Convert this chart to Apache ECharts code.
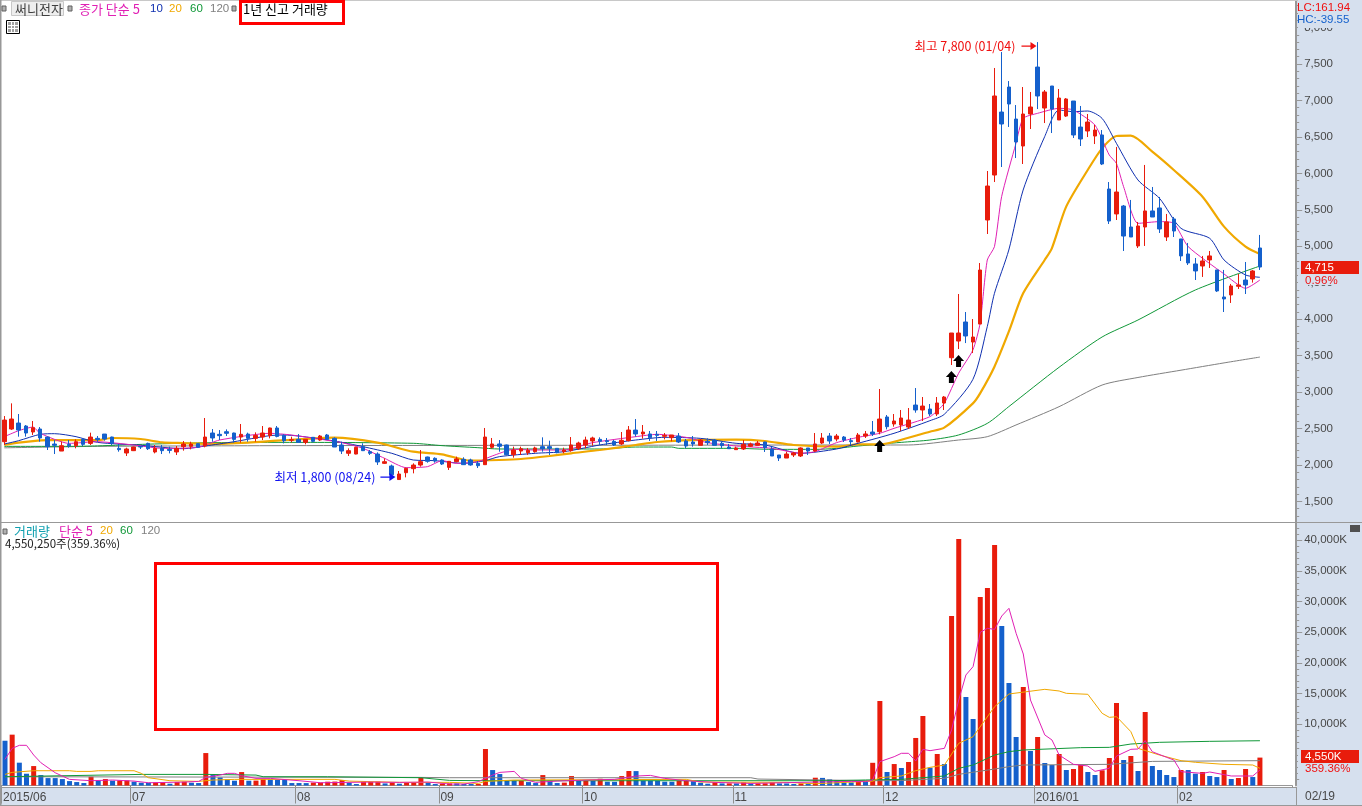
<!DOCTYPE html>
<html><head><meta charset="utf-8">
<style>html,body{margin:0;padding:0;background:#fff;overflow:hidden}#c{width:1362px;height:806px}</style>
<script src="https://cdn.jsdelivr.net/npm/echarts@6/dist/echarts.min.js"></script>
</head><body><div id="c"></div>
<script>
const monthStarts=[0,18,41,61,81,102,123,144,164];
const monthLabels=['2015/06','07','08','09','10','11','12','2016/01','02'];
const opens=[2319,2493,2575,2534,2452,2493,2383,2287,2191,2283,
2264,2351,2296,2365,2424,2383,2228,2164,2196,2255,
2296,2178,2228,2214,2178,2251,2255,2292,2260,2438,
2420,2456,2438,2383,2424,2365,2383,2402,2507,2406,
2338,2351,2310,2379,2342,2411,2365,2274,2160,2150,
2251,2182,2150,2022,1986,1800,1894,1949,1999,2109,
2091,2068,1967,2045,2077,2068,2022,2004,2242,2288,
2274,2141,2191,2169,2182,2251,2251,2228,2182,2196,
2228,2274,2329,2351,2333,2324,2288,2333,2479,2425,
2425,2420,2393,2374,2397,2329,2315,2269,2324,2342,
2297,2246,2210,2219,2256,2269,2315,2219,2137,2095,
2137,2123,2233,2191,2301,2397,2356,2383,2333,2315,
2397,2452,2456,2658,2562,2548,2520,2822,2754,2767,
2699,2850,3471,3700,3961,3686,3933,5360,5977,6841,
7184,6745,6375,6814,7458,6896,7198,6732,6786,6992,
6635,6581,6512,6526,5785,5443,5552,5264,5004,5264,
5484,5525,5127,5374,5100,4894,4757,4729,4812,4675,
4304,4332,4451,4537,4551,4976];
const closes=[2616,2630,2479,2438,2511,2370,2251,2269,2264,2264,
2319,2283,2383,2347,2356,2296,2210,2219,2246,2246,
2223,2228,2196,2200,2228,2287,2287,2242,2383,2370,
2402,2434,2351,2420,2365,2406,2438,2507,2392,2333,
2347,2310,2351,2324,2397,2351,2246,2191,2196,2242,
2196,2160,2041,2045,1866,1876,1954,1999,2045,2050,
2054,2013,2050,2082,2004,2000,1990,2383,2288,2256,
2141,2205,2223,2201,2233,2223,2228,2169,2205,2274,
2301,2342,2370,2324,2320,2274,2338,2479,2425,2452,
2374,2406,2406,2411,2315,2260,2288,2342,2306,2269,
2265,2223,2233,2283,2288,2301,2237,2123,2095,2150,
2164,2233,2191,2288,2370,2329,2397,2342,2320,2411,
2425,2424,2630,2525,2603,2644,2616,2754,2808,2699,
2850,2932,3810,3810,3769,3755,4674,5826,7061,6677,
6951,6430,6814,6910,7061,7116,6882,7033,7020,6526,
6471,6704,6594,6128,5346,5744,5140,5127,5278,5484,
5401,5237,5333,5209,4867,4771,4661,4798,4867,4387,
4277,4455,4469,4469,4661,4715];
const lows=[2274,2480,2388,2388,2411,2319,2205,2150,2191,2237,
2228,2260,2274,2319,2333,2274,2182,2123,2191,2219,
2205,2159,2150,2159,2136,2196,2214,2237,2242,2319,
2342,2397,2306,2306,2319,2319,2342,2365,2379,2296,
2310,2306,2283,2310,2329,2342,2246,2150,2123,2146,
2191,2137,2000,2013,1850,1800,1830,1885,1977,2031,
2031,2000,1931,2036,2000,1990,1958,2004,2223,2182,
2137,2100,2137,2137,2169,2182,2137,2160,2160,2182,
2205,2228,2265,2274,2274,2260,2274,2324,2388,2361,
2329,2329,2351,2324,2301,2228,2251,2269,2274,2269,
2228,2219,2205,2205,2246,2265,2178,2123,2054,2095,
2109,2109,2137,2182,2288,2288,2324,2315,2274,2310,
2370,2397,2420,2488,2525,2466,2493,2717,2603,2671,
2671,2754,3371,3590,3672,3535,3933,5168,5881,6087,
6636,6210,6128,6608,6882,6690,6553,6732,6773,6485,
6375,6498,6402,6114,5305,5360,4935,5127,4976,5004,
5401,5182,5072,5127,4798,4743,4537,4579,4702,4373,
4098,4222,4414,4345,4501,4675];
const highs=[2671,2845,2699,2548,2603,2520,2388,2342,2320,2342,
2351,2365,2443,2397,2424,2388,2287,2237,2250,2260,
2306,2274,2274,2251,2260,2328,2319,2296,2644,2493,
2479,2488,2443,2562,2443,2447,2534,2511,2534,2420,
2388,2424,2351,2379,2411,2425,2379,2319,2228,2251,
2297,2205,2173,2091,2005,1917,1960,2022,2205,2114,
2105,2077,2054,2114,2105,2086,2054,2507,2370,2342,
2279,2251,2251,2233,2251,2379,2333,2228,2237,2383,
2319,2388,2388,2379,2370,2342,2452,2534,2630,2548,
2466,2466,2438,2411,2438,2356,2397,2356,2365,2356,
2324,2288,2251,2342,2306,2329,2319,2251,2137,2182,
2178,2242,2233,2438,2438,2438,2425,2397,2370,2438,
2466,2603,3042,2685,2699,2754,2781,3055,2932,2836,
2932,2946,3810,4345,4098,4002,4770,6032,7445,7664,
7266,6937,7184,7116,7800,7143,7198,7157,7033,6992,
6924,6814,6663,6594,5881,6362,5566,5635,5333,6115,
5813,5676,5443,5402,5100,5045,4839,4867,4935,4675,
4675,4483,4620,4784,4675,5155];
const ma5=[[0,2388],[2,2470],[4,2520],[5,2434],[9,2296],[13,2319],[18,2274],[22,2228],[27,2242],[30,2342],[37,2434],[40,2411],[47,2306],[50,2228],[53,2091],[56,1963],[59,1977],[61,2059],[63,2022],[66,2045],[68,2123],[71,2214],[74,2205],[78,2205],[82,2306],[88,2388],[91,2420],[95,2379],[98,2306],[102,2260],[107,2228],[111,2160],[113,2182],[116,2306],[119,2379],[122,2434],[124,2502],[129,2662],[131,2845],[133,3257],[135,3577],[136,3942],[137,4811],[138,4994],[139,5680],[141,6411],[142,6754],[144,6823],[147,6892],[149,6869],[152,6663],[154,6252],[155,6137],[156,5817],[158,5314],[161,5338],[163,5315],[165,4995],[170,4620],[173,4423],[175,4537]];
const ma10=[[0,2287],[2,2333],[5,2420],[7,2429],[10,2388],[13,2310],[19,2270],[25,2223],[28,2260],[32,2319],[37,2402],[39,2411],[41,2397],[46,2329],[50,2251],[54,2160],[57,2068],[60,2059],[64,2022],[67,2059],[69,2114],[74,2160],[78,2182],[83,2274],[88,2342],[92,2379],[97,2365],[102,2297],[106,2274],[111,2160],[116,2219],[119,2297],[124,2434],[129,2607],[131,2694],[135,3174],[137,3897],[138,4354],[140,4948],[142,5771],[145,6503],[147,6869],[149,6846],[151,6855],[153,6754],[155,6412],[158,5909],[161,5658],[164,5246],[168,5109],[170,4812],[173,4606],[175,4574]];
const ma20=[[0,2274],[2,2306],[4,2328],[6,2340],[13,2340],[15,2370],[19,2356],[22,2310],[25,2300],[29,2287],[34,2306],[38,2333],[41,2351],[46,2374],[52,2306],[57,2182],[61,2146],[65,2059],[69,2068],[72,2082],[76,2123],[79,2160],[83,2205],[88,2274],[91,2315],[96,2342],[102,2347],[106,2329],[110,2274],[116,2251],[119,2283],[122,2283],[124,2319],[129,2456],[131,2511],[135,2845],[136,2982],[138,3348],[140,3828],[142,4354],[145,4811],[146,4971],[148,5543],[151,6046],[153,6343],[155,6512],[157,6517],[160,6298],[163,6046],[167,5680],[170,5269],[173,4995],[175,4894]];
const ma60=[[0,2255],[9,2255],[13,2262],[20,2285],[29,2306],[41,2310],[57,2297],[61,2265],[66,2237],[69,2219],[83,2219],[88,2246],[93,2246],[94,2228],[102,2228],[107,2214],[113,2214],[116,2228],[119,2260],[125,2310],[129,2342],[133,2411],[137,2570],[140,2800],[147,3339],[153,3755],[158,3988],[166,4400],[175,4729]];
const ma120=[[0,2235],[13,2255],[40,2265],[83,2270],[119,2274],[126,2274],[133,2342],[137,2388],[141,2548],[147,2799],[153,3096],[158,3200],[164,3300],[170,3400],[175,3480]];
const volumes=[7300,8290,3720,1920,3170,1700,1210,1210,1050,720,
560,400,1430,780,1050,780,820,830,620,450,
450,470,560,290,560,620,450,400,5290,1700,
1320,1000,780,2190,780,800,1050,1000,940,940,
400,400,390,470,480,620,640,890,450,240,
560,570,620,340,510,290,450,460,1270,450,
240,290,340,340,240,240,250,5950,2520,1870,
780,770,780,560,400,1700,780,400,470,1540,
780,790,760,1100,620,600,1540,2360,2350,780,
780,770,620,610,780,790,700,450,290,560,
340,350,340,510,340,350,360,510,340,330,
240,340,320,1270,1240,1000,890,510,500,890,
620,3700,13780,2200,3500,2850,3830,7750,11330,2910,
5140,3510,27640,40190,14430,10840,30740,32200,39210,26010,
16710,7910,16060,5630,7910,3670,3340,5140,2530,2690,
3340,2200,1710,2480,4480,13450,4160,4810,2360,11980,
3180,2530,1710,1380,2530,2520,1930,2200,1550,1380,
2530,1060,1220,2690,1380,4550];
const volumeDirection=('brbbrbbbbb'+'bbrbrbrrbb'+'brrbrrbbrb'+'bbbrbrrbbb'+'bbbrrrrrbb'+'rrrbrbrrrb'+'brrbbbrrbb'+'bbrbbrbbrr'+'brbrbbrrbb'+'bbbbrrbbbr'+'brbrbrrrbb'+'brbrbbbbbr'+'brrbrbrrrb'+'rbrrbbrrrb'+'bbrbrbbrbr'+'rbbrrrbrbr'+'bbbbrbbrbb'+'rbrrbr').split('');
const volMa5=[[0,4260],[1,6050],[2,6550],[3,6550],[4,4970],[5,3720],[7,2080],[9,1000],[12,780],[15,890],[18,720],[20,450],[25,560],[27,670],[28,1320],[30,1700],[31,1980],[32,1980],[33,1600],[35,1160],[37,1160],[41,780],[44,450],[51,560],[55,510],[59,560],[62,240],[64,240],[66,620],[68,1700],[69,2140],[71,2300],[72,1160],[74,510],[77,720],[81,890],[85,1000],[88,1540],[90,1650],[92,1160],[95,780],[99,510],[104,340],[113,560],[118,670],[120,620],[121,900],[122,3890],[124,4700],[125,5250],[126,5250],[127,4000],[128,5900],[129,5680],[131,6060],[132,9050],[133,13940],[134,18020],[135,19380],[136,24975],[137,25630],[138,25460],[139,27640],[140,28890],[141,24810],[142,21440],[143,13940],[145,8240],[146,7420],[147,4970],[149,3450],[151,3180],[152,2310],[154,2800],[155,4800],[157,5900],[158,5950],[159,7300],[160,5500],[162,4590],[163,4160],[164,2250],[167,1980],[168,2200],[171,1550],[174,1550],[175,2530]];
const volMa20=[[0,1810],[1,2140],[4,2410],[9,2410],[10,2300],[12,2300],[13,2410],[18,2410],[19,1980],[20,1270],[23,780],[27,670],[29,890],[32,1000],[46,1000],[48,720],[55,510],[62,510],[66,340],[67,670],[71,890],[95,1000],[97,560],[109,510],[113,290],[121,720],[122,1280],[125,1550],[127,2420],[129,2960],[131,3340],[133,6880],[135,7960],[138,12850],[140,14920],[145,15680],[147,15410],[148,15030],[151,14870],[153,11770],[154,11110],[155,11220],[157,8780],[158,6060],[161,4970],[164,4050],[166,3780],[170,3450],[174,3340],[175,2800]];
const volMa60=[[0,1430],[19,1810],[28,1810],[35,1700],[36,1430],[45,1430],[58,1270],[62,830],[67,780],[115,780],[120,900],[125,1000],[131,1550],[133,2800],[135,3340],[138,4970],[140,5520],[142,5790],[150,6170],[154,6220],[157,6760],[161,7040],[168,7200],[175,7300]];
const volMa120=[[0,1430],[58,1320],[62,1270],[104,1270],[105,1050],[121,780],[125,800],[131,1170],[133,1820],[138,2690],[140,3070],[142,3340],[154,3450],[160,3930],[175,4050]];
const priceLabelTicks=[1500,2000,2500,3000,3500,4000,4500,5000,5500,6000,6500,7000,7500,8000];
const priceMinorTicks=[1300,1400,1600,1700,1800,1900,2100,2200,2300,2400,2600,2700,2800,2900,3100,3200,3300,3400,3600,3700,3800,3900,4100,4200,4300,4400,4600,4700,4800,4900,5100,5200,5300,5400,5600,5700,5800,5900,6100,6200,6300,6400,6600,6700,6800,6900,7100,7200,7300,7400,7600,7700,7800,7900,8100,8200,8300];
const volumeLabelTicks=[5000,10000,15000,20000,25000,30000,35000,40000];
const volumeMinorTicks=[1000,2000,3000,4000,6000,7000,8000,9000,11000,12000,13000,14000,16000,17000,18000,19000,21000,22000,23000,24000,26000,27000,28000,29000,31000,32000,33000,34000,36000,37000,38000,39000,41000,42000];

const RED='#E81C0C',BLUE='#1460CC',C5='#E020B4',C10='#1030B0',C20='#F0A800',C60='#109838',C120='#808080';
const PANEL='#D6E0EE',AXIS='#989898',NUM='#484848';
const LAT='"Liberation Sans",sans-serif',KR='"Noto Sans CJK KR",sans-serif';
const categories=Array.from({length:180},(_,i)=>{const k=monthStarts.indexOf(i);return k>=0?monthLabels[k]:''});
const candleData=opens.map((o,i)=>[o,closes[i],lows[i],highs[i]]);
const volData=volumes.map((v,i)=>({value:v,itemStyle:{color:volumeDirection[i]==='r'?RED:BLUE}}));
const line=(name,data,color,width,x,y,z,smooth)=>({name,type:'line',data,xAxisIndex:x,yAxisIndex:y,symbol:'none',z:z,
  smooth:smooth||false,lineStyle:{color,width},itemStyle:{color},silent:true,animation:false});
const rightArrow='path://M0,3.4 L9,3.4 L9,0 L15,4 L9,8 L9,4.6 L0,4.6 Z';
const upArrow='path://M5.5,0 L11,6 L8,6 L8,12 L3,12 L3,6 L0,6 Z';
const txt=(x,y,text,fill,font,extra)=>({type:'text',x,y,z:60,style:Object.assign({text,fill,font:font||('13px '+KR),textVerticalAlign:'middle'},extra||{})});
const rect=(x,y,w,h,fill,z,stroke,lw)=>({type:'rect',z:z,shape:{x,y,width:w,height:h},style:{fill:fill,stroke:stroke||null,lineWidth:lw||0}});
const sq=(x,y)=>rect(x,y,4,5,'#B0B0B0',60,'#606060',1);
const num='11.5px '+LAT;

const axisCommon={type:'value',position:'right',offset:4,scale:false,splitLine:{show:false},silent:true};
const option={
 animation:false,backgroundColor:'#fff',
 grid:[{left:0.7,width:1291.5,top:1,height:521},{left:0.7,width:1291.5,top:523,height:262.5}],
 xAxis:[
  {type:'category',gridIndex:0,data:categories,show:false},
  {type:'category',gridIndex:1,data:categories,offset:1,
   axisLine:{show:true,lineStyle:{color:AXIS,width:1}},
   axisTick:{show:true,length:18,interval:(i)=>monthStarts.includes(i),lineStyle:{color:'#909090',width:1}},
   axisLabel:{show:true,interval:(i)=>monthStarts.includes(i),formatter:(v)=>v,align:'left',margin:3,padding:[2,0,0,-2],color:NUM,fontFamily:LAT,fontSize:12}}
 ],
 yAxis:[
  Object.assign({},axisCommon,{gridIndex:0,min:1217.6,max:8364,
   axisLine:{show:true,lineStyle:{color:AXIS,width:2}},
   axisTick:{show:true,length:6,customValues:priceLabelTicks,lineStyle:{color:AXIS}},
   axisLabel:{customValues:priceLabelTicks,margin:8,padding:[2,0,0,0],color:NUM,fontFamily:LAT,fontSize:11.5,formatter:(v)=>Number(v).toLocaleString('en-US')}}),
  Object.assign({},axisCommon,{gridIndex:0,min:1217.6,max:8364,
   axisLine:{show:false},axisTick:{show:true,length:3,customValues:priceMinorTicks,lineStyle:{color:AXIS}},axisLabel:{show:false}}),
  Object.assign({},axisCommon,{gridIndex:1,min:0,max:42800,
   axisLine:{show:true,lineStyle:{color:AXIS,width:2}},
   axisTick:{show:true,length:6,customValues:volumeLabelTicks,lineStyle:{color:AXIS}},
   axisLabel:{customValues:volumeLabelTicks,margin:8,padding:[2,0,0,0],color:NUM,fontFamily:LAT,fontSize:11.5,formatter:(v)=>Number(v).toLocaleString('en-US')+'K'}}),
  Object.assign({},axisCommon,{gridIndex:1,min:0,max:42800,
   axisLine:{show:false},axisTick:{show:true,length:3,customValues:volumeMinorTicks,lineStyle:{color:AXIS}},axisLabel:{show:false}})
 ],
 series:[
  line('MA120',ma120,C120,1,0,0,2,0.25),
  line('MA60',ma60,C60,1,0,0,2,0.25),
  line('MA20',ma20,C20,2.2,0,0,2,0.25),
  line('MA10',ma10,C10,1,0,0,2,0.25),
  line('MA5',ma5,C5,1,0,0,2,0.2),
  {name:'candle',type:'candlestick',xAxisIndex:0,yAxisIndex:0,data:candleData,barWidth:4,z:3,silent:true,
   itemStyle:{color:RED,color0:BLUE,borderColor:RED,borderColor0:BLUE,borderWidth:1},
   markPoint:{silent:true,animation:false,z:6,data:[
    {coord:[144,7800],symbol:'circle',symbolSize:0,label:{show:true,position:'inside',offset:[-72.6,4],formatter:'최고 7,800 (01/04)',color:'#F01010',fontFamily:KR,fontSize:12.5}},
    {coord:[144,7800],symbol:rightArrow,symbolSize:[15,8],symbolOffset:[-8.5,4],itemStyle:{color:'#F01010'},label:{show:false}},
    {coord:[55,1800],symbol:'circle',symbolSize:0,label:{show:true,position:'inside',offset:[-74,-2.5],formatter:'최저 1,800 (08/24)',color:'#1010F0',fontFamily:KR,fontSize:12.5}},
    {coord:[55,1800],symbol:rightArrow,symbolSize:[15,8],symbolOffset:[-11,-2.5],itemStyle:{color:'#1010F0'},label:{show:false}},
    {coord:[122,2260],symbol:upArrow,symbolSize:[11,12],itemStyle:{color:'#000'},label:{show:false}},
    {coord:[132,3206],symbol:upArrow,symbolSize:[11,12],itemStyle:{color:'#000'},label:{show:false}},
    {coord:[133,3426],symbol:upArrow,symbolSize:[11,12],itemStyle:{color:'#000'},label:{show:false}}
   ]}},
  {name:'volume',type:'bar',xAxisIndex:1,yAxisIndex:2,data:volData,barWidth:5,z:2,silent:true},
  line('VMA120',volMa120,C120,1,1,2,3),
  line('VMA60',volMa60,C60,1,1,2,3),
  line('VMA20',volMa20,C20,1,1,2,3),
  line('VMA5',volMa5,C5,1,1,2,3)
 ],
 graphic:{elements:[
  rect(1297,0,65,806,PANEL,-1),
  rect(0,788,1297,17,PANEL,-1),
  rect(1287,788,8.5,17,PANEL,40),
  rect(0,0,1362,1,'#C8C8C8',40),
  rect(0,0,1.5,806,AXIS,40),
  rect(0,805,1362,1,AXIS,40),
  rect(0,522,1362,1,AXIS,40),
  rect(0,787,1297,1,AXIS,40),
  rect(1296,787,1,18,AXIS,40),
  // header row
  sq(2,6),
  rect(11.5,1.5,52,14,'#EEEEEE',60,'#C8C8C8',1),
  txt(15,9,'써니전자','#404040'),
  sq(68,6),
  txt(79,9,'종가 단순 5',C5),
  txt(150,9,'10',C10,num),
  txt(169,9,'20',C20,num),
  txt(190,9,'60',C60,num),
  txt(210,9,'120',C120,num),
  sq(232,6),
  rect(240.5,1.5,103,22,null,60,'#FF0000',3),
  txt(243,9,'1년 신고 거래량','#000'),
  rect(6.5,20.5,13,13,'#fff',60,'#000',1),
  rect(8,22,10,10,'#A0A0A0',61),
  {type:'line',z:62,shape:{x1:8,y1:25.5,x2:18,y2:25.5},style:{stroke:'#fff',lineWidth:1}},
  {type:'line',z:62,shape:{x1:8,y1:28.5,x2:18,y2:28.5},style:{stroke:'#fff',lineWidth:1}},
  {type:'line',z:62,shape:{x1:11.5,y1:22,x2:11.5,y2:32},style:{stroke:'#fff',lineWidth:1}},
  {type:'line',z:62,shape:{x1:14.5,y1:22,x2:14.5,y2:32},style:{stroke:'#fff',lineWidth:1}},
  // right panel top
  rect(1298,0,64,28,PANEL,50),
  txt(1297,7.5,'LC:161.94','#F01010',num),
  txt(1297,20,'HC:-39.55',BLUE,num),
  // price tag
  rect(1298,274,64,11,PANEL,50),
  rect(1301,261,58,13,RED,55),
  txt(1305,267.5,'4,715','#fff',num),
  txt(1305,280.5,'0.96%','#F01010',num),
  // volume pane header
  sq(3,529),
  txt(14,531,'거래량','#10A0B0'),
  txt(59,531,'단순 5',C5),
  txt(100,531,'20',C20,num),
  txt(120,531,'60',C60,num),
  txt(141,531,'120',C120,num),
  txt(5,544,'4,550,250주(359.36%)','#202020','11.5px '+KR),
  rect(155.5,563.5,562,166,null,60,'#FF0000',3),
  rect(1350,525,10,7,'#505050',60),
  // volume tag
  rect(1298,750,64,26,PANEL,50),
  rect(1301,750,58,13,RED,55),
  txt(1305,756.5,'4,550K','#fff',num),
  txt(1305,769,'359.36%','#F01010',num),
  // last date
  txt(1305,796.5,'02/19',NUM,'12px '+LAT)
 ]}
};
echarts.init(document.getElementById('c'),null,{renderer:'canvas'}).setOption(option);
</script></body></html>
